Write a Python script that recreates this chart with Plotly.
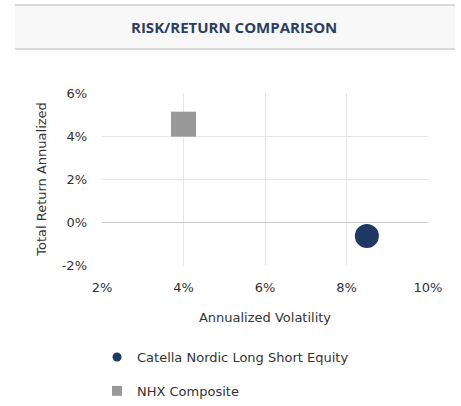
import plotly.graph_objects as go

names = ["Catella Nordic Long Short Equity", "NHX Composite"]
volatility = [8.5, 4.0]
returns = [-0.65, 4.55]
colors = ["#1f3864", "#999999"]
symbols = ["circle", "square"]
x_ticks = [2, 4, 6, 8, 10]
y_ticks = [-2, 0, 2, 4, 6]

W, H = 461, 406
L, R, T, B = 102, 33, 93, 141
pw, ph = W - L - R, H - T - B

def px(x):
    return (x - L) / pw

def py(y):
    return (H - B - y) / ph

fig = go.Figure()
for n, vx, vy, c, s in zip(names, volatility, returns, colors, symbols):
    fig.add_trace(go.Scatter(x=[vx], y=[vy], mode="markers", name=n,
                             marker=dict(color=c, symbol=s, size=24 if s == "circle" else 25,
                                         line=dict(width=0)),
                             showlegend=False, hoverinfo="skip"))
for i, (n, c, s) in enumerate(zip(names, colors, symbols)):
    fig.add_trace(go.Scatter(x=[None], y=[None], mode="markers", name=n,
                             legendgroup=f"g{i}",
                             marker=dict(color=c, symbol=s, size=9 if s == "circle" else 10)))

fig.add_shape(type="rect", xref="paper", yref="paper",
              x0=px(15), x1=px(455), y0=py(49), y1=py(5),
              fillcolor="#f8f8f8", line=dict(width=0), layer="below")
for yy in (5, 49):
    fig.add_shape(type="line", xref="paper", yref="paper",
                  x0=px(15), x1=px(455), y0=py(yy), y1=py(yy),
                  line=dict(color="#d9d9d9", width=2))
fig.add_annotation(text="<b>RISK/RETURN COMPARISON</b>", xref="paper", yref="paper",
                   x=px(234), y=py(27), showarrow=False, xanchor="center", yanchor="middle",
                   font=dict(family="Open Sans", size=15, color="#2c3e5f"))

axis_font = dict(family="Verdana, DejaVu Sans", size=13, color="#333333")
fig.update_xaxes(range=[2, 10], tickvals=x_ticks, ticktext=[f"{v}%" for v in x_ticks],
                 showgrid=True, gridcolor="#e6e6e6", zeroline=False, showline=False,
                 tickfont=axis_font, ticks="", ticklabelstandoff=13,
                 title=dict(text="Annualized Volatility", font=axis_font, standoff=18),
                 fixedrange=True)
fig.update_yaxes(range=[-2, 6], tickvals=y_ticks, ticktext=[f"{v}%" for v in y_ticks],
                 showgrid=True, gridcolor="#e6e6e6", zeroline=True, zerolinecolor="#c8c8c8",
                 zerolinewidth=1, showline=False,
                 tickfont=axis_font, ticks="", ticklabelstandoff=14,
                 title=dict(text="Total Return Annualized", font=axis_font, standoff=12),
                 fixedrange=True)

fig.update_layout(width=W, height=H,
                  margin=dict(l=L, r=R, t=T, b=B, pad=0, autoexpand=False),
                  paper_bgcolor="white", plot_bgcolor="white",
                  showlegend=True,
                  legend=dict(x=px(97), y=py(342), xanchor="left", yanchor="top",
                              font=dict(family="Verdana, DejaVu Sans", size=13, color="#333333"),
                              tracegroupgap=14, bgcolor="rgba(0,0,0,0)"))

fig.write_html("out.html", config={"displayModeBar": False},
               post_script="document.body.style.margin='0';document.body.style.overflow='hidden';")
